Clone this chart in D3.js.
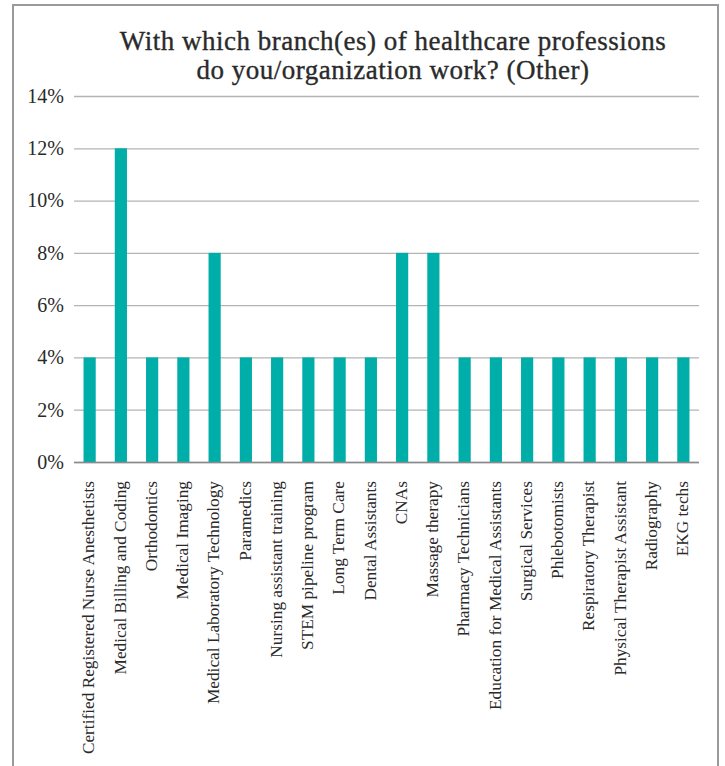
<!DOCTYPE html>
<html>
<head>
<meta charset="utf-8">
<script src="https://cdn.jsdelivr.net/npm/d3@7"></script>
<style>
  html, body { margin: 0; padding: 0; background: #fff; }
  svg { display: block; }
</style>
</head>
<body>
<svg id="chart" width="725" height="766"></svg>
<script>
// Branches reported under "Other" and their share of responses (%)
const categories = [
  "Certified Registered Nurse Anesthetists",
  "Medical Billing and Coding",
  "Orthodontics",
  "Medical Imaging",
  "Medical Laboratory Technology",
  "Paramedics",
  "Nursing assistant training",
  "STEM pipeline program",
  "Long Term Care",
  "Dental Assistants",
  "CNAs",
  "Massage therapy",
  "Pharmacy Technicians",
  "Education for Medical Assistants",
  "Surgical Services",
  "Phlebotomists",
  "Respiratory Therapist",
  "Physical Therapist Assistant",
  "Radiography",
  "EKG techs"
];
const values = [4, 12, 4, 4, 8, 4, 4, 4, 4, 4, 8, 8, 4, 4, 4, 4, 4, 4, 4, 4];
const yTicks = [0, 2, 4, 6, 8, 10, 12, 14];
const titleLines = [
  "With which branch(es) of healthcare professions",
  "do you/organization work? (Other)"
];

const svg = d3.select("#chart");
const font = "'Liberation Serif', 'Times New Roman', serif";
const plot = { left: 74, right: 699, top: 96, bottom: 462 };

// outer frame (open at the bottom)
svg.append("path")
  .attr("d", "M13,766 V5 H718 V766")
  .attr("fill", "none")
  .attr("stroke", "#9a9a9e")
  .attr("stroke-width", 2);

const x = d3.scaleBand().domain(categories).range([plot.left, plot.right])
  .paddingInner(0.61).paddingOuter(0.305);
const y = d3.scaleLinear().domain([0, 14]).range([plot.bottom, plot.top]);

// gridlines and y labels
const yAxis = d3.axisLeft(y).tickValues(yTicks).tickSize(-(plot.right - plot.left)).tickPadding(10)
  .tickFormat(d => d + "%");
const gy = svg.append("g").attr("transform", `translate(${plot.left},0)`).call(yAxis);
gy.select(".domain").remove();
gy.selectAll(".tick line").attr("stroke", "#b4b4b4").attr("stroke-width", 1.3);
gy.selectAll(".tick text")
  .attr("font-family", font).attr("font-size", 20).attr("fill", "#2a2a2a");

// bars
svg.append("g").selectAll("rect").data(values).join("rect")
  .attr("x", (d, i) => x(categories[i]))
  .attr("width", x.bandwidth())
  .attr("y", d => y(d))
  .attr("height", d => y(0) - y(d))
  .attr("fill", "#00aea9");

// category axis
const xAxis = d3.axisBottom(x).tickSize(0).tickPadding(0);
const gx = svg.append("g").attr("transform", `translate(0,${plot.bottom})`).call(xAxis);
gx.select(".domain").attr("stroke", "#8a8a8e").attr("stroke-width", 1.5)
  .attr("d", `M${plot.left},0.5H${plot.right}`);
gx.selectAll(".tick text")
  .attr("font-family", font).attr("font-size", 17.3).attr("fill", "#2a2a2a")
  .attr("text-anchor", "end")
  .attr("dy", "0.33em")
  .attr("transform", "translate(-1,19) rotate(-90)")
  .attr("x", 0).attr("y", 0);

// title (semibold look: regular face with a thin matching stroke)
svg.append("text")
  .attr("font-family", font).attr("font-size", 27).attr("letter-spacing", 0.5)
  .attr("fill", "#2a2a2a").attr("stroke", "#2a2a2a").attr("stroke-width", 0.35)
  .attr("text-anchor", "middle")
  .selectAll("tspan").data(titleLines).join("tspan")
  .attr("x", 393).attr("y", (d, i) => 50 + i * 29)
  .text(d => d);
</script>
</body>
</html>
